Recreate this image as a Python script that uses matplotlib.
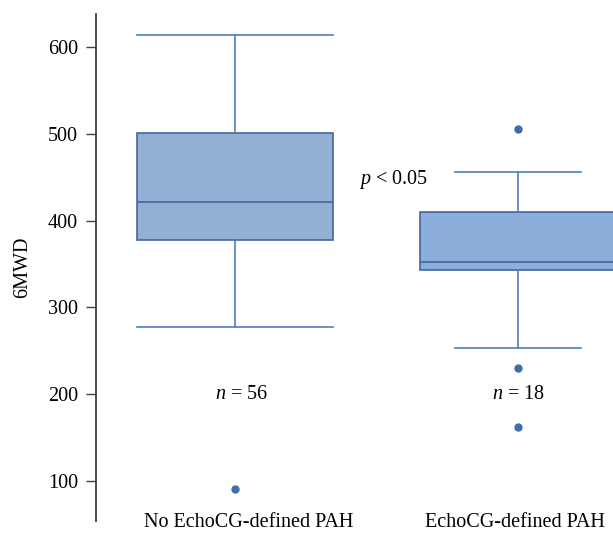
import matplotlib
matplotlib.use("Agg")
from matplotlib import pyplot as plt

# values (6MWD)
groups = ['No EchoCG-defined PAH', 'EchoCG-defined PAH']
medians = [422, 352]
q1 = [378, 343]
q3 = [501, 410]
whisk_lo = [277, 253]
whisk_hi = [614, 456]
outliers = [[91], [505, 230, 162]]
counts = [56, 18]

plt.rcParams['font.family'] = ['Liberation Serif', 'DejaVu Serif']
plt.rcParams['mathtext.fontset'] = 'custom'
plt.rcParams['mathtext.it'] = 'Liberation Serif:italic'
plt.rcParams['mathtext.rm'] = 'Liberation Serif'

fig = plt.figure(figsize=(6.13, 5.34), dpi=100)
W, H = 613, 534
ax = fig.add_axes([96 / W, 1 - 521 / H, (613 - 96) / W, (521 - 14) / H])

stats = []
for i in range(len(groups)):
    stats.append(dict(med=medians[i], q1=q1[i], q3=q3[i],
                      whislo=whisk_lo[i], whishi=whisk_hi[i],
                      fliers=outliers[i], label=groups[i]))

bp = ax.bxp(stats, positions=[1, 2], widths=0.693, capwidths=[0.693, 0.445],
            patch_artist=True, showfliers=True)
fills = ['#93afd4', '#8caedb']
for patch, c in zip(bp['boxes'], fills):
    patch.set_facecolor(c)
    patch.set_edgecolor('#41689c')
    patch.set_linewidth(1.2)
for m in bp['medians']:
    m.set_color('#41689c')
    m.set_linewidth(1.2)
for l in bp['whiskers'] + bp['caps']:
    l.set_color('#4f7fbf')
    l.set_linewidth(1.2)
for f in bp['fliers']:
    f.set_marker('o')
    f.set_markersize(5)
    f.set_markerfacecolor('#3d6ea8')
    f.set_markeredgecolor('#3d6ea8')

fs = 14.5
ax.set_xlim(0.509, 2.336)
ax.set_ylim(54, 638)
ax.set_yticks([100, 200, 300, 400, 500, 600])
ax.tick_params(axis='y', length=7, width=1, color='#404040', labelsize=fs, pad=6)
ax.set_xticks([1.049, 1.989])
ax.set_xticklabels(groups)
ax.tick_params(axis='x', length=0, labelsize=fs, pad=-6)
for s in ['top', 'right', 'bottom']:
    ax.spines[s].set_visible(False)
ax.spines['left'].set_color('#404040')
ax.spines['left'].set_linewidth(1.3)

ax.set_ylabel('6MWD', fontsize=fs, labelpad=11)

ax.text(1.025, 200, '$\\it{n}$ = %d' % counts[0], ha='center', va='center', fontsize=fs)
ax.text(2.0, 200, '$\\it{n}$ = %d' % counts[1], ha='center', va='center', fontsize=fs)
ax.text(1.56, 447, '$\\it{p}$ < 0.05', ha='center', va='center', fontsize=fs)

fig.savefig('out.png', dpi=100)
